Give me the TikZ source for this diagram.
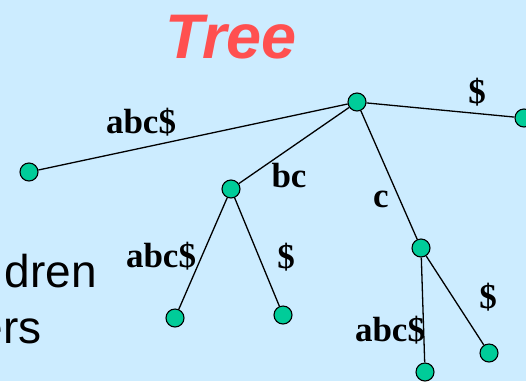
\documentclass[tikz,border=0pt]{standalone}
\usepackage{fontspec}
\setmainfont{Liberation Serif}
\newfontfamily\arialfont{Liberation Sans}
\usetikzlibrary{positioning}
\definecolor{slidebg}{RGB}{204,236,255}
\definecolor{nodegreen}{RGB}{0,204,153}
\definecolor{titlered}{RGB}{255,80,80}

\begin{document}
\begin{tikzpicture}[x=1pt, y=-1pt,
      vert/.style={circle, draw, line width=1.1pt, fill=nodegreen,
                   minimum size=18pt, inner sep=0pt},
      lbl/.style={anchor=base, inner sep=0pt,
                  font=\fontsize{35}{35}\selectfont\bfseries},
      bullet/.style={anchor=base east, inner sep=0pt,
                     font=\arialfont\fontsize{46}{46}\selectfont},
      branch/.style={line width=1.3pt}]
    \fill[slidebg] (0,0) rectangle (526,381);
    \clip (0,0) rectangle (526,381);
    \node[anchor=base, inner sep=0pt, text=titlered,
          font=\arialfont\bfseries\itshape\fontsize{63}{63}\selectfont] (title) at (231,58) {Tree};
    % slide text cut at the left edge
    \node[bullet] (line1) at (97,287) {dren};
    \node[bullet] (line2) at (42,343) {ers};
    % tree vertices
    \node[vert] (root) at (357,102) {};
    \node[vert] (rleaf) at (524,118) {};
    \node[vert] (lleaf) at (29,172) {};
    \node[vert] (bc) at (231,189) {};
    \node[vert] (bcabc) at (175,318) {};
    \node[vert] (bcend) at (283,315) {};
    \node[vert] (c) at (421,248) {};
    \node[vert] (cabc) at (425,372) {};
    \node[vert] (cend) at (489,353) {};
    % branches
    \draw[branch] (root) -- (lleaf);
    \draw[branch] (root) -- (rleaf);
    \draw[branch] (root) -- (bc);
    \draw[branch] (root) -- (c);
    \draw[branch] (bc) -- (bcabc);
    \draw[branch] (bc) -- (bcend);
    \draw[branch] (c) -- (cabc);
    \draw[branch] (c) -- (cend);
    % branch labels
    \node[lbl] (l1) at (141,133) {abc\$};
    \node[lbl] (l2) at (477,103) {\$};
    \node[lbl] (l3) at (289,187) {bc};
    \node[lbl] (l4) at (381,207) {c};
    \node[lbl] (l5) at (161,267) {abc\$};
    \node[lbl] (l6) at (286,268) {\$};
    \node[lbl] (l7) at (390,341) {abc\$};
    \node[lbl] (l8) at (488,308) {\$};
\end{tikzpicture}
\end{document}
